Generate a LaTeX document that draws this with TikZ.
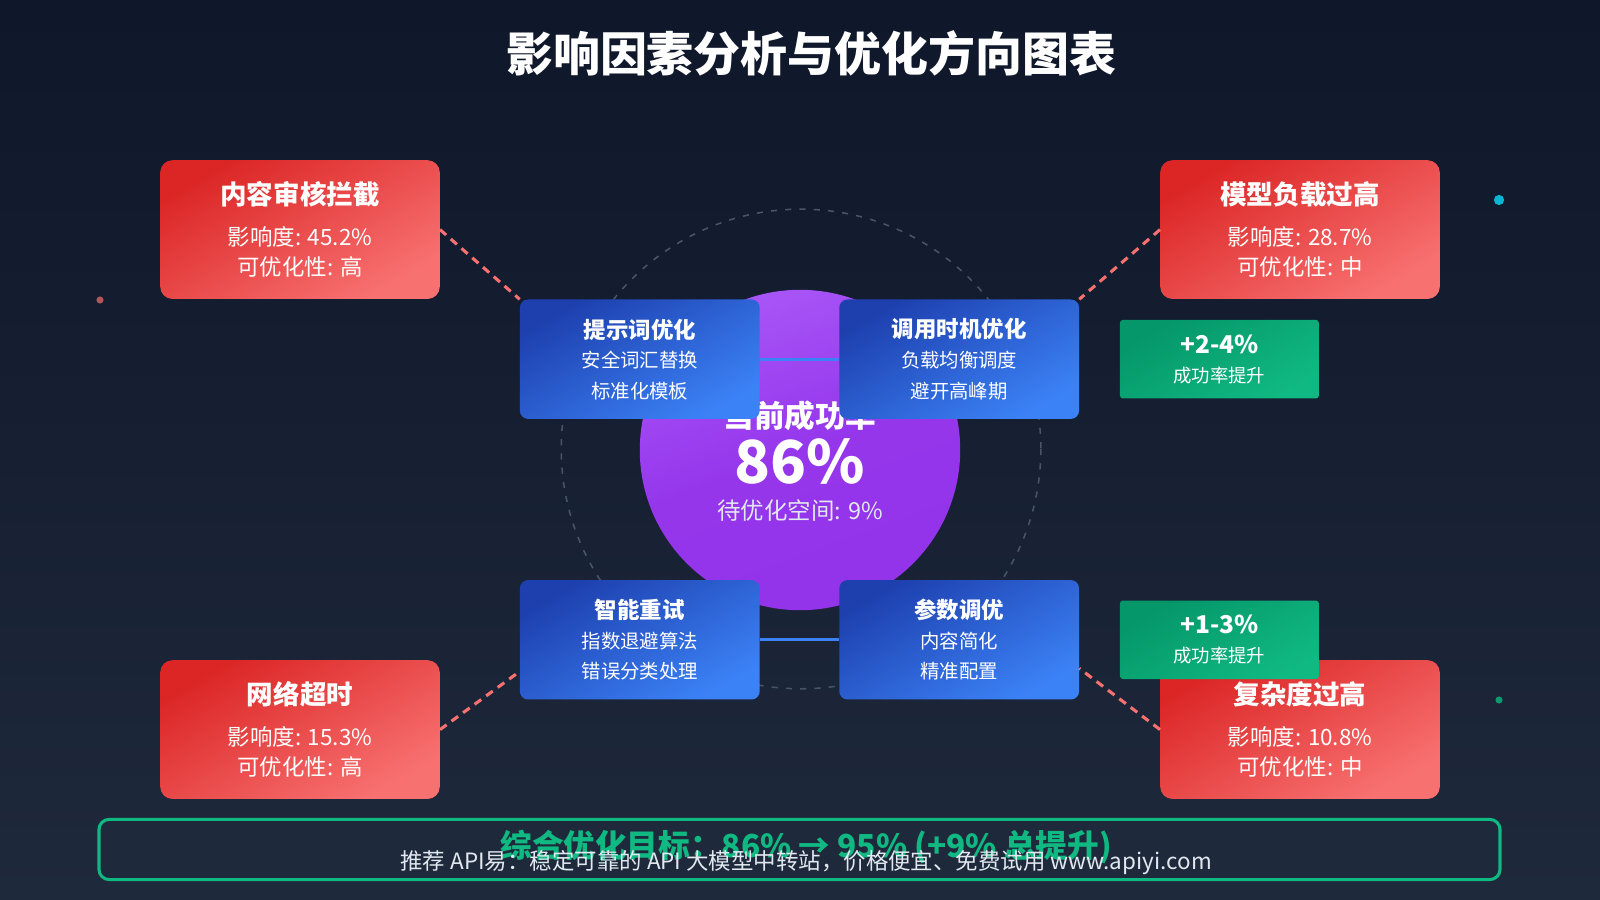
\documentclass[tikz,border=0pt]{standalone}
\usepackage{fontspec}
\setmainfont{Noto Sans CJK SC}
\newcommand\fsz[1]{\fontsize{#1}{#1}\selectfont}
\definecolor{bgA}{HTML}{0F172A}
\definecolor{bgB}{HTML}{1E293B}
\definecolor{redA}{HTML}{DC2626}
\definecolor{redB}{HTML}{F87171}
\definecolor{bluA}{HTML}{1E40AF}
\definecolor{bluB}{HTML}{3B82F6}
\definecolor{purA}{HTML}{A855F7}
\definecolor{purB}{HTML}{9333EA}
\definecolor{grn}{HTML}{10B981}
\definecolor{grnD}{HTML}{059669}
\definecolor{cyan2}{HTML}{06B6D4}
\definecolor{gry}{HTML}{475569}
\definecolor{txt}{HTML}{E2E8F0}
\begin{document}
\begin{tikzpicture}[x=1pt,y=-1pt,
  redbox/.style={rounded corners=12pt,shading=axis,top color=redA,bottom color=redB,shading angle=30,minimum width=274pt,minimum height=136pt,text=white,align=center,inner sep=0pt},
  bluebox/.style={rounded corners=8pt,shading=axis,top color=bluA,bottom color=bluB,shading angle=30,minimum width=235pt,minimum height=117pt,text=white,align=center,inner sep=0pt},
  grnbox/.style={rounded corners=3pt,shading=axis,top color=grnD,bottom color=grn,shading angle=30,minimum width=195pt,minimum height=77pt,text=white,align=center,inner sep=0pt},
  reddash/.style={redB,line width=3pt,dash pattern=on 8pt off 6pt},
  blueline/.style={bluB,line width=3pt}]
\useasboundingbox (0,0) rectangle (1568,882);
\shade[top color=bgA,bottom color=bgB] (0,0) rectangle (1568,882);
\node[text=white,font=\fsz{46}\bfseries] (title) at (795,52) {影响因素分析与优化方向图表};
\draw[gry,line width=1.5pt,dash pattern=on 6pt off 8pt] (785,440) circle (235);
\shade[top color=purA,bottom color=purB,middle color=purB!90!purA,shading angle=20] (784,441) circle (157);
\node[circle,minimum size=314pt] (core) at (784,441) {};
\node[text=white,font=\fsz{30}\bfseries] (ct1) at (784,408) {当前成功率};
\node[text=white,font=\fsz{58}\bfseries] (ct2) at (784,452) {86\%};
\node[text=txt,font=\fsz{23}] (ct3) at (784,500) {待优化空间: 9\%};
% blue boxes
\node[bluebox] (b1) at (627,352) {{\fsz{22}\bfseries 提示词优化}\\[10pt]{\fsz{19}安全词汇替换}\\[11pt]{\fsz{19}标准化模板}};
\node[bluebox] (b2) at (940,352) {{\fsz{22}\bfseries 调用时机优化}\\[10pt]{\fsz{19}负载均衡调度}\\[11pt]{\fsz{19}避开高峰期}};
\node[bluebox] (b3) at (627,627) {{\fsz{22}\bfseries 智能重试}\\[10pt]{\fsz{19}指数退避算法}\\[11pt]{\fsz{19}错误分类处理}};
\node[bluebox] (b4) at (940,627) {{\fsz{22}\bfseries 参数调优}\\[10pt]{\fsz{19}内容简化}\\[11pt]{\fsz{19}精准配置}};
\draw[blueline] (b1.east) -- (b2.west);
\draw[blueline] (b3.east) -- (b4.west);
% red boxes
\node[redbox] (r1) at (294,225) {{\fsz{26}\bfseries 内容审核拦截}\\[18pt]{\fsz{22}影响度: 45.2\%}\\[8pt]{\fsz{22}可优化性: 高}};
\node[redbox] (r2) at (1274,225) {{\fsz{26}\bfseries 模型负载过高}\\[18pt]{\fsz{22}影响度: 28.7\%}\\[8pt]{\fsz{22}可优化性: 中}};
\node[redbox] (r3) at (294,715) {{\fsz{26}\bfseries 网络超时}\\[18pt]{\fsz{22}影响度: 15.3\%}\\[8pt]{\fsz{22}可优化性: 高}};
\node[redbox] (r4) at (1274,715) {{\fsz{26}\bfseries 复杂度过高}\\[18pt]{\fsz{22}影响度: 10.8\%}\\[8pt]{\fsz{22}可优化性: 中}};
\draw[reddash] (r1.east) -- (b1.north west);
\draw[reddash] (r2.west) -- (b2.north east);
\draw[reddash] (r3.east) -- ([yshift=-31pt]b3.west);
\draw[reddash] (r4.west) -- ([yshift=-28pt]b4.east);
% green boxes
\node[grnbox] (g1) at (1195,352) {{\fsz{24}\bfseries +2-4\%}\\[12pt]{\fsz{18}成功率提升}};
\node[grnbox] (g2) at (1195,627) {{\fsz{24}\bfseries +1-3\%}\\[12pt]{\fsz{18}成功率提升}};
% dots
\fill[cyan2] (1469,196) circle (5);
\fill[redB!70!bgA] (98,294) circle (3.5);
\fill[grn!80!bgA] (1469,686) circle (3.5);
% bottom
\node[draw=grn,line width=3pt,fill=bgB,rounded corners=10pt,minimum width=1373pt,minimum height=59pt] (foot) at (783.5,832.5) {};
\node[text=grn,font=\fsz{31}\bfseries] (goal) at (790,830) {综合优化目标：86\% → 95\% (+9\% 总提升)};
\node[text=txt,font=\fsz{22}] (ad) at (790,845) {推荐 API易：稳定可靠的 API 大模型中转站，价格便宜、免费试用 www.apiyi.com};
\end{tikzpicture}
\end{document}
